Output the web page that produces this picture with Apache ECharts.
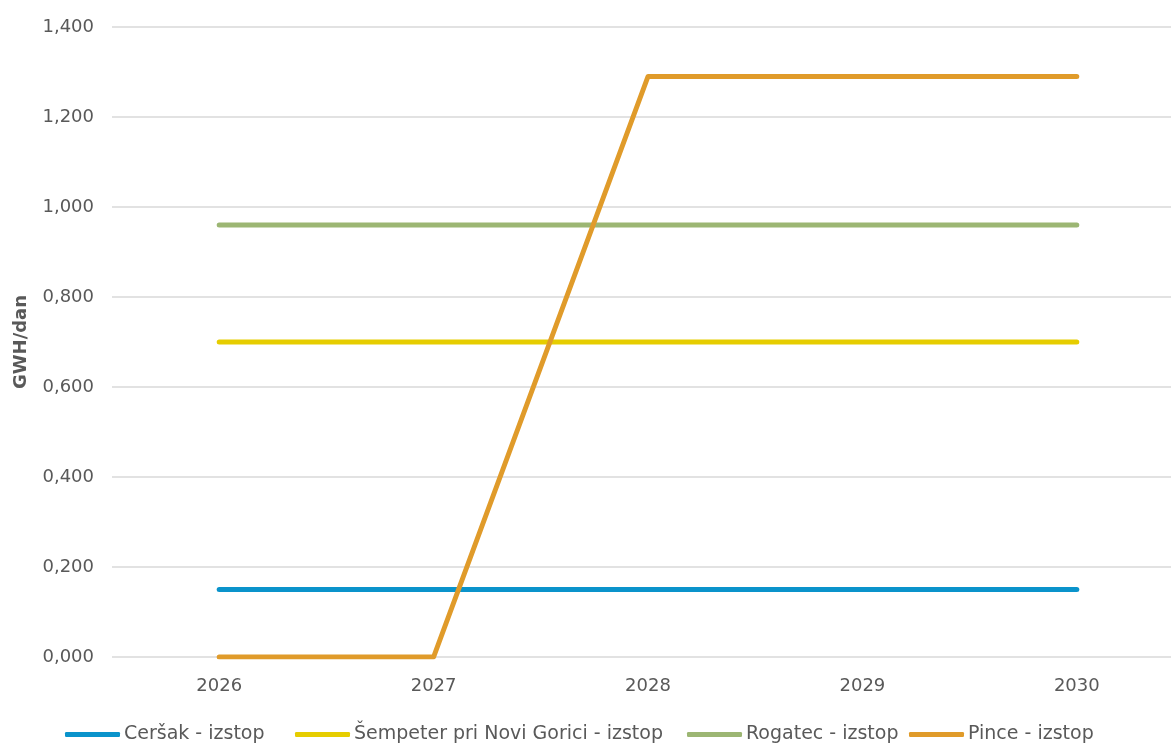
<!DOCTYPE html>
<html>
<head>
<meta charset="utf-8">
<script src="https://cdn.jsdelivr.net/npm/echarts@6/dist/echarts.min.js"></script>
<style>
html,body{margin:0;padding:0;background:#fff;}
#chart{width:1171px;height:743px;}
</style>
</head>
<body>
<div id="chart"></div>
<script>
var years = ['2026', '2027', '2028', '2029', '2030'];
var cersak = [0.15, 0.15, 0.15, 0.15, 0.15];
var sempeter = [0.70, 0.70, 0.70, 0.70, 0.70];
var rogatec = [0.96, 0.96, 0.96, 0.96, 0.96];
var pince = [0, 0, 1.29, 1.29, 1.29];
var seriesNames = ['Ceršak - izstop', 'Šempeter pri Novi Gorici - izstop', 'Rogatec - izstop', 'Pince - izstop'];
var seriesValues = [cersak, sempeter, rogatec, pince];
var colors = ['#0A93CB', '#E6CD00', '#9CB673', '#E09B2A'];
var legendLefts = [65, 295, 687, 909];
var font = 'DejaVu Sans';

var chart = echarts.init(document.getElementById('chart'));
var legends = seriesNames.map(function (n, i) {
  return {
    data: [n],
    left: legendLefts[i],
    top: 725,
    itemWidth: 55,
    itemHeight: 5,
    itemGap: 0,
    padding: 0,
    icon: 'roundRect',
    textStyle: {fontFamily: font, fontSize: 19, color: '#595959', padding: [0, 0, 0, -1]}
  };
});
chart.setOption({
  animation: false,
  color: colors,
  grid: {left: 112, top: 27, width: 1072, height: 630, outerBoundsMode: 'none', containLabel: false},
  legend: legends,
  xAxis: {
    type: 'category',
    data: years,
    boundaryGap: true,
    axisLine: {show: false},
    axisTick: {show: false},
    axisLabel: {fontFamily: font, fontSize: 18, color: '#595959', margin: 20}
  },
  yAxis: {
    type: 'value',
    min: 0,
    max: 1.4,
    interval: 0.2,
    name: 'GWH/dan',
    nameLocation: 'middle',
    nameGap: 82,
    nameRotate: 90,
    nameTextStyle: {fontFamily: font, fontSize: 18, fontWeight: 'bold', color: '#595959'},
    axisLine: {show: false},
    axisTick: {show: false},
    axisLabel: {
      fontFamily: font, fontSize: 18, color: '#595959', margin: 18,
      formatter: function (v) { return v.toFixed(3).replace('.', ','); }
    },
    splitLine: {lineStyle: {color: '#D9D9D9', width: 1.5}}
  },
  series: seriesNames.map(function (n, i) {
    return {
      name: n,
      type: 'line',
      data: seriesValues[i],
      symbol: 'none',
      lineStyle: {width: 5, color: colors[i], cap: 'round', join: 'round'},
      itemStyle: {color: colors[i]}
    };
  })
});
</script>
</body>
</html>
